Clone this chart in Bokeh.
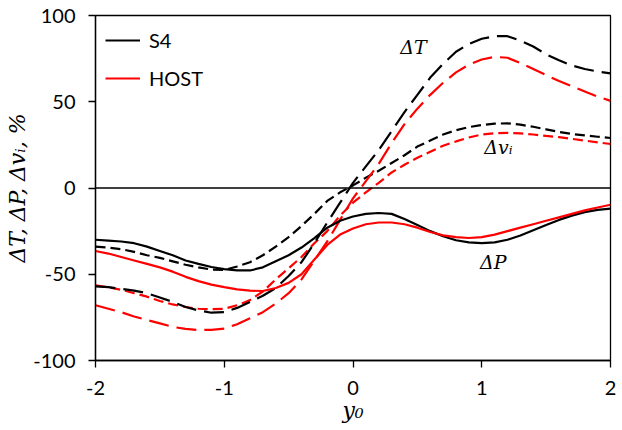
from bokeh.plotting import figure
from bokeh.models import Span, Label, Legend, LegendItem, FixedTicker
from bokeh.embed import file_html
from bokeh.resources import INLINE

# ---- data ----
y0 = [-2.0, -1.9, -1.8, -1.7, -1.6, -1.5, -1.4, -1.3, -1.2, -1.1, -1.0,
      -0.9, -0.8, -0.7, -0.6, -0.5, -0.4, -0.3, -0.2, -0.1, 0.0,
      0.1, 0.2, 0.3, 0.4, 0.5, 0.6, 0.7, 0.8, 0.9, 1.0,
      1.1, 1.2, 1.3, 1.4, 1.5, 1.6, 1.7, 1.8, 1.9, 2.0]

s4_dT = [-57, -57.5, -58.5, -59.5, -61, -63.5, -66, -69, -71, -72.3, -72,
         -69.5, -66, -62.5, -58, -51, -43, -32, -20, -8.5, 3,
         12.5, 22, 33, 44, 54, 64, 72, 79, 83.5, 86.5,
         88, 88, 85.5, 82, 77.5, 74, 71, 69, 67.5, 66.5]
host_dT = [-68, -70, -72, -74.5, -76.5, -78.5, -80.5, -81.7, -82.3, -82.3, -81.5,
           -79, -75.5, -72, -67, -61, -53, -42, -31, -18.5, -6,
           4, 14, 26, 37, 46, 54, 61, 67, 71.5, 74.5,
           76, 75.5, 72.5, 69, 65.5, 62, 59, 56, 53, 50.5]
s4_dP = [-30, -30.5, -31, -32, -34, -36.5, -39, -42, -44, -45.8, -47,
         -47.8, -47.8, -46, -42.5, -39, -34.5, -29, -23, -19, -16.5,
         -15, -14.5, -15, -18, -21.5, -25, -28, -30.3, -31.5, -32,
         -31.5, -30, -27.5, -24.5, -21.5, -18.5, -16, -14, -12.7, -12]
host_dP = [-36.5, -38, -40, -42, -44, -46, -48.5, -51.5, -54, -56, -57.5,
           -58.8, -59.5, -59.7, -58, -55, -50, -41.5, -33, -27, -23.5,
           -21, -20, -20, -21, -23, -25.5, -27.5, -28.5, -29, -28.5,
           -27, -25, -23, -21, -19, -17, -15, -13, -11.3, -9.7]
s4_dv = [-34, -34.5, -35.5, -37, -39, -40.5, -42.5, -44.5, -46, -47.3, -47.5,
         -45.5, -43, -39, -34, -28.5, -22, -15, -7.5, -2.5, 1.5,
         6, 10, 14.5, 19, 24, 27.5, 31, 33.5, 35.3, 36.5,
         37.3, 37.5, 36.7, 35.5, 34, 32.5, 31.3, 30.5, 29.7, 29]
host_dv = [-56.5, -57.5, -59, -61, -63, -65.5, -67.5, -69, -70, -70.3, -70,
           -68, -65, -60, -53, -46.5, -40, -32, -25, -16, -8.5,
           -2.5, 3, 9, 13.5, 17.5, 21, 24.5, 27, 29.3, 31,
           31.8, 32, 31.7, 31, 30.2, 29.5, 28.5, 27.5, 26.5, 25.5]

x_ticks = [-2, -1, 0, 1, 2]
y_ticks = [-100, -50, 0, 50, 100]

BLACK = "#000000"
RED = "#FF0000"
TICK_FONT = "Lato"

p = figure(width=622, height=430, output_backend="svg", toolbar_location=None,
           x_range=(-2, 2), y_range=(-100, 100),
           min_border_left=95, min_border_right=12, min_border_top=15,
           min_border_bottom=70)
p.background_fill_color = "white"
p.border_fill_color = "white"
p.outline_line_color = "black"
p.outline_line_width = 1.3
p.xgrid.visible = False
p.ygrid.visible = False

# zero line
p.add_layout(Span(location=0, dimension="width", line_color="black", line_width=1.3))

long_dash = "20 8"
short_dash = "10 5"
lw = 2.2

p.line(y0, s4_dv, line_color=BLACK, line_width=lw, line_dash=short_dash)
p.line(y0, host_dv, line_color=RED, line_width=lw, line_dash=short_dash)
p.line(y0, s4_dT, line_color=BLACK, line_width=lw, line_dash=long_dash)
p.line(y0, host_dT, line_color=RED, line_width=lw, line_dash=long_dash)
r_s4 = p.line(y0, s4_dP, line_color=BLACK, line_width=lw)
r_host = p.line(y0, host_dP, line_color=RED, line_width=lw)

# axes
for ax in (p.xaxis[0], p.yaxis[0]):
    ax.axis_line_color = "black"
    ax.axis_line_width = 1.3
    ax.major_tick_line_color = "black"
    ax.major_tick_line_width = 1.3
    ax.major_tick_in = 0
    ax.major_tick_out = 7
    ax.minor_tick_line_color = None
    ax.major_label_text_font = TICK_FONT
    ax.major_label_text_font_size = "20px"
    ax.major_label_text_color = "black"
    ax.axis_label_text_font = "DejaVu Serif"
    ax.axis_label_text_font_style = "italic"
    ax.axis_label_text_font_size = "22px"
    ax.axis_label_text_color = "black"

p.xaxis[0].ticker = FixedTicker(ticks=x_ticks)
p.yaxis[0].ticker = FixedTicker(ticks=y_ticks)
p.xaxis[0].major_label_overrides = {t: str(t) for t in x_ticks}
p.yaxis[0].major_label_overrides = {t: str(t) for t in y_ticks}
p.xaxis[0].major_label_standoff = 13
p.yaxis[0].major_label_standoff = 13
p.xaxis[0].axis_label = "y₀"
p.xaxis[0].axis_label_standoff = 0
p.yaxis[0].axis_label = "ΔT, ΔP, Δvᵢ, %"
p.yaxis[0].axis_label_standoff = 0

# curve labels
for txt, xx, yy in [("ΔT", 0.47, 82), ("Δvᵢ", 1.13, 24), ("ΔP", 1.09, -43)]:
    p.add_layout(Label(x=xx, y=yy, text=txt, text_font="DejaVu Serif",
                       text_font_style="italic", text_font_size="19px",
                       text_align="center", text_baseline="middle",
                       text_color="black"))

legend = Legend(items=[LegendItem(label="S4", renderers=[r_s4]),
                       LegendItem(label="HOST", renderers=[r_host])],
                location="top_left")
legend.border_line_color = None
legend.background_fill_alpha = 0
legend.margin = 10
legend.padding = 8
legend.glyph_width = 35
legend.glyph_height = 30
legend.label_height = 30
legend.spacing = 8
legend.label_standoff = 9
legend.label_text_font = TICK_FONT
legend.label_text_font_size = "20px"
legend.label_text_color = "black"
p.add_layout(legend)

open("out.html", "w").write(file_html(p, INLINE))
